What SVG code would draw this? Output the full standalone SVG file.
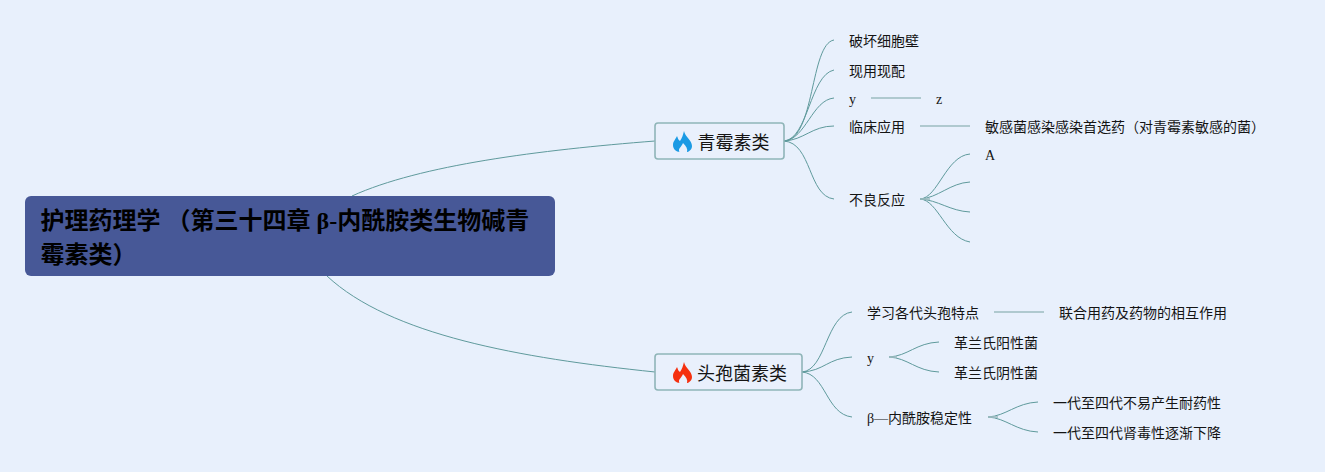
<svg xmlns="http://www.w3.org/2000/svg" width="1325" height="472" viewBox="0 0 1325 472">
<style>
text{font-family:"Liberation Serif","Noto Sans CJK SC",sans-serif;fill:#141414}
.l2{font-size:14px}
.l1{font-size:18px}
.root{font-size:24px;font-weight:700;fill:#000}
.c{fill:none;stroke:#5f9a9c;stroke-width:1}
.s{fill:none;stroke:#9dbcc0;stroke-width:1.6}
.b{fill:#e9f0fc;stroke:#8fb5b8;stroke-width:1.6}
</style>
<rect width="1325" height="472" fill="#e8f0fc"/>
<g id="connectors">
<path class="c" d="M352 196C420 165 540 150 655 141"/>
<path class="c" d="M327 276C390 335 520 358 655 372"/>
<path class="c" d="M784 141C815 140 810 44 834 40"/>
<path class="c" d="M784 141C808 139 810 75 834 70"/>
<path class="c" d="M784 141C806 139 812 100 834 98"/>
<path class="c" d="M784 141C804 140 812 126 834 126"/>
<path class="c" d="M784 141C812 143 808 196 834 199"/>
<path class="s" d="M871 98H921"/>
<path class="s" d="M920 126H970"/>
<path class="c" d="M920 199C938 198 946 156 970 154"/>
<path class="c" d="M920 199C938 198 950 183 970 182"/>
<path class="c" d="M920 199C938 200 950 211 970 212"/>
<path class="c" d="M920 199C938 200 946 238 970 242"/>
<path class="s" d="M920 199H930"/>
<path class="c" d="M802 372C826 370 826 315 852 312"/>
<path class="c" d="M802 372C824 371 828 358 852 357"/>
<path class="c" d="M802 372C826 374 826 414 852 417"/>
<path class="s" d="M994 312H1044"/>
<path class="c" d="M889 357C908 356 916 343 939 342"/>
<path class="c" d="M889 357C908 358 916 371 939 372"/>
<path class="s" d="M889 357H897"/>
<path class="c" d="M988 417C1006 416 1016 403 1038 402"/>
<path class="c" d="M988 417C1006 418 1016 431 1038 432"/>
<path class="s" d="M988 417H998"/>
</g>
<g id="root">
<rect x="25" y="196" width="530" height="80" rx="6" fill="#475897"/>
<text class="root" x="40.5" y="228.5">护理药理学 （第三十四章 β-内酰胺类生物碱青</text>
<text class="root" x="40.5" y="262.5">霉素类）</text>
</g>
<g id="n-qing">
<rect class="b" x="655" y="123" width="129" height="36" rx="3"/>
<path d="M684 131C685 137 692 140 692 146C692 150 688 152 687 152C688 149 686 146 683 143C682 146 679 148 679 150C679 151 679 152 680 152C676 152 673 149 673 145C673 141 676 139 677 136C678 138 678 140 680 141C682 138 683 135 684 131Z" fill="#1b9ae4"/>
<text class="l1" x="697.500" y="149">青霉素类</text>
</g>
<g id="n-tou">
<rect class="b" x="655" y="354" width="147" height="36" rx="3"/>
<path d="M684 362C685 368 692 371 692 377C692 381 688 383 687 383C688 380 686 377 683 374C682 377 679 379 679 381C679 382 679 383 680 383C676 383 673 380 673 376C673 372 676 370 677 367C678 369 678 371 680 372C682 369 683 366 684 362Z" fill="#f5300f"/>
<text class="l1" x="697" y="380">头孢菌素类</text>
</g>
<g id="n1"><text class="l2" x="849" y="46">破坏细胞壁</text></g>
<g id="n2"><text class="l2" x="849" y="76">现用现配</text></g>
<g id="n3"><text class="l2" x="849" y="104">y</text></g>
<g id="n3a"><text class="l2" x="936" y="104">z</text></g>
<g id="n4"><text class="l2" x="849" y="132">临床应用</text></g>
<g id="n4a"><text class="l2" x="985" y="132">敏感菌感染感染首选药（对青霉素敏感的菌）</text></g>
<g id="n5"><text class="l2" x="849" y="205">不良反应</text></g>
<g id="n5a"><text class="l2" x="985" y="160">A</text></g>
<g id="n6"><text class="l2" x="867" y="318">学习各代头孢特点</text></g>
<g id="n6a"><text class="l2" x="1059" y="318">联合用药及药物的相互作用</text></g>
<g id="n7"><text class="l2" x="867" y="363">y</text></g>
<g id="n7a"><text class="l2" x="954" y="348">革兰氏阳性菌</text></g>
<g id="n7b"><text class="l2" x="954" y="378">革兰氏阴性菌</text></g>
<g id="n8"><text class="l2" x="867" y="423">β—内酰胺稳定性</text></g>
<g id="n8a"><text class="l2" x="1053" y="408">一代至四代不易产生耐药性</text></g>
<g id="n8b"><text class="l2" x="1053" y="438">一代至四代肾毒性逐渐下降</text></g>
</svg>
